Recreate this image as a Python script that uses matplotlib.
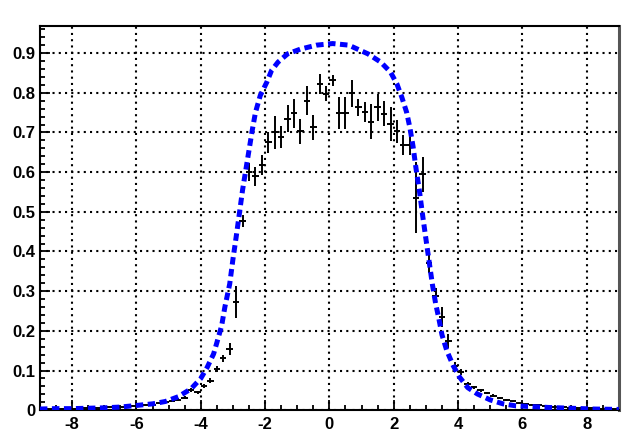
import numpy as np
import matplotlib
matplotlib.use('Agg')
import matplotlib.pyplot as plt
from matplotlib.ticker import MultipleLocator

# bin centres of the histogram (width 0.2 from -9 to 9)
bin_x = np.round(np.arange(-8.9, 9.0, 0.2), 1)

bin_y = [0.003, 0.003, 0.003, 0.004, 0.004, 0.004, 0.005, 0.005, 0.006, 0.006,
         0.007, 0.008, 0.009, 0.010, 0.011, 0.012, 0.013, 0.014, 0.017, 0.020,
         0.023, 0.027, 0.032,
         0.050, 0.045, 0.062, 0.074, 0.104, 0.131, 0.154, 0.272, 0.477, 0.600,
         0.589, 0.618, 0.675, 0.700, 0.689, 0.734, 0.748, 0.703, 0.780, 0.713,
         0.822, 0.797, 0.831, 0.749, 0.749, 0.799, 0.763, 0.751, 0.727, 0.763,
         0.747, 0.721, 0.703, 0.669, 0.669, 0.536, 0.595, 0.372, 0.288, 0.235,
         0.174, 0.111, 0.097,
         0.066, 0.058, 0.050, 0.043, 0.037, 0.031, 0.026, 0.022, 0.018, 0.016,
         0.014, 0.012, 0.010, 0.009, 0.008, 0.007, 0.006, 0.006, 0.005, 0.005,
         0.004, 0.004, 0.003, 0.003]

bin_err = [0.001, 0.001, 0.001, 0.001, 0.001, 0.001, 0.001, 0.001, 0.0015, 0.0015,
           0.0015, 0.0015, 0.0015, 0.0015, 0.0015, 0.0015, 0.002, 0.002, 0.002, 0.002,
           0.003, 0.003, 0.003,
           0.005, 0.004, 0.005, 0.006, 0.008, 0.009, 0.015, 0.040, 0.015, 0.023,
           0.023, 0.025, 0.027, 0.042, 0.028, 0.034, 0.036, 0.032, 0.036, 0.032,
           0.025, 0.019, 0.015, 0.040, 0.040, 0.034, 0.021, 0.025, 0.044, 0.034,
           0.032, 0.042, 0.029, 0.025, 0.025, 0.090, 0.044, 0.027, 0.019, 0.025,
           0.017, 0.010, 0.008,
           0.005, 0.004, 0.004, 0.003, 0.003, 0.003, 0.003, 0.002, 0.002, 0.002,
           0.002, 0.002, 0.002, 0.0015, 0.0015, 0.0015, 0.0015, 0.001, 0.001, 0.001,
           0.001, 0.001, 0.001, 0.001]

# model curve (blue dashed)
curve_x = [-9.0, -8.5, -8.0, -7.5, -7.0, -6.5, -6.0, -5.5, -5.1, -4.7, -4.3, -4.0,
           -3.8, -3.6, -3.5, -3.35, -3.25, -3.1, -3.0, -2.9, -2.8, -2.7, -2.6, -2.5,
           -2.4, -2.3, -2.15, -1.95, -1.8, -1.6, -1.3, -0.9, -0.4, 0.1, 0.6, 1.2,
           1.6, 1.9, 2.1, 2.25, 2.4, 2.5, 2.6, 2.7, 2.8, 2.9, 3.0, 3.1, 3.2, 3.3,
           3.4, 3.5, 3.65, 3.85, 4.05, 4.3, 4.6, 5.0, 5.4, 5.8, 6.3, 6.8, 7.5, 8.2, 9.0]
curve_y = [0.003, 0.004, 0.004, 0.005, 0.006, 0.008, 0.012, 0.016, 0.022, 0.034, 0.054, 0.080,
           0.108, 0.142, 0.170, 0.213, 0.260, 0.318, 0.380, 0.436, 0.495, 0.555, 0.605, 0.655,
           0.705, 0.750, 0.793, 0.826, 0.856, 0.877, 0.898, 0.910, 0.920, 0.924, 0.920, 0.898,
           0.877, 0.852, 0.822, 0.789, 0.751, 0.713, 0.665, 0.605, 0.552, 0.490, 0.432, 0.375, 0.318, 0.270,
           0.232, 0.190, 0.150, 0.112, 0.083, 0.057, 0.041, 0.026, 0.016, 0.011, 0.009, 0.007, 0.005, 0.003, 0.002]

x_ticks = [-8, -6, -4, -2, 0, 2, 4, 6, 8]
y_ticks = [0, 0.1, 0.2, 0.3, 0.4, 0.5, 0.6, 0.7, 0.8, 0.9]
y_labels = ['0', '0.1', '0.2', '0.3', '0.4', '0.5', '0.6', '0.7', '0.8', '0.9']

plt.rcParams['font.family'] = ['Liberation Sans', 'DejaVu Sans']

fig = plt.figure(figsize=(6.44, 4.43), dpi=100)
ax = fig.add_axes([0.062, 0.074, 0.899, 0.868])

ax.errorbar(bin_x, bin_y, yerr=bin_err, xerr=0.1, fmt='none',
            ecolor='black', elinewidth=1.4, capsize=0, zorder=3)

ax.plot(curve_x, curve_y, color='#0000ff', linewidth=3.6,
        dashes=(1.5, 0.9), dash_capstyle='butt', zorder=4)

ax.set_xlim(-9, 9)
ax.set_ylim(0, 0.969)
ax.set_xticks(x_ticks)
ax.set_xticklabels([str(t) for t in x_ticks])
ax.set_yticks(y_ticks)
ax.set_yticklabels(y_labels)
ax.xaxis.set_minor_locator(MultipleLocator(0.5))
ax.yaxis.set_minor_locator(MultipleLocator(0.02))

ax.grid(True, which='major', color='black', linestyle=(0, (1, 2)), linewidth=1.5)
ax.set_axisbelow(True)

ax.tick_params(which='both', direction='in', top=False, right=False, width=1.3)
ax.tick_params(which='major', length=7)
ax.tick_params(which='minor', length=3.5)
ax.tick_params(axis='x', pad=5)
ax.tick_params(axis='y', pad=3)
for lab in ax.get_xticklabels() + ax.get_yticklabels():
    lab.set_fontweight('bold')
    lab.set_fontsize(12)

for sp in ax.spines.values():
    sp.set_linewidth(1.5)
ax.spines['right'].set_color('#555555')
ax.spines['right'].set_linewidth(2.2)

fig.savefig('out.png', dpi=100)
